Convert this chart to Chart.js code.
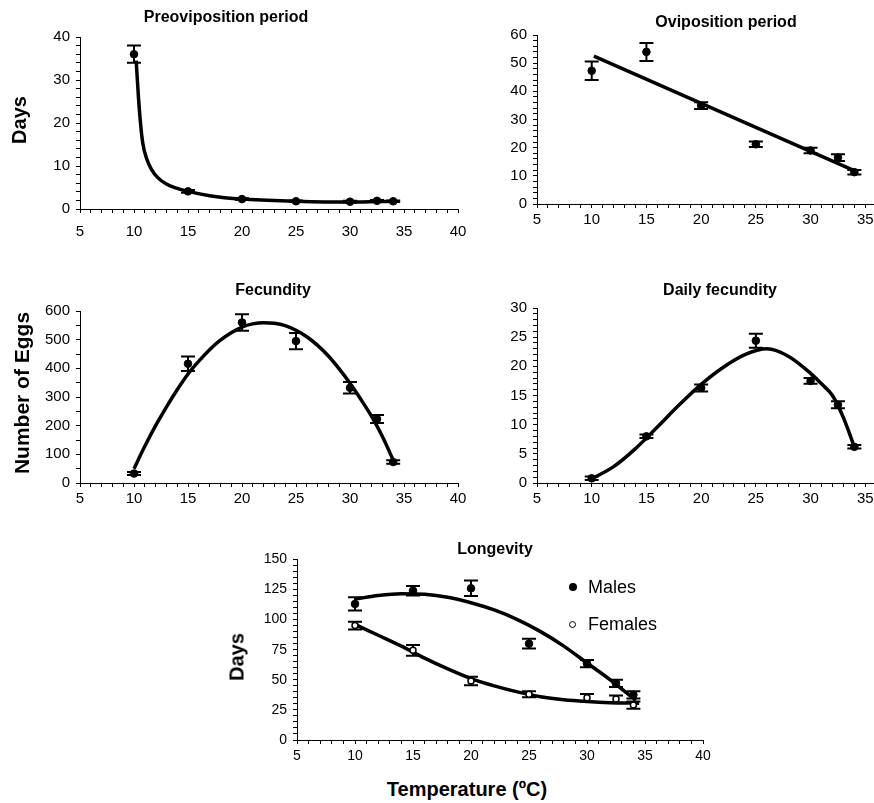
<!DOCTYPE html>
<html lang="en">
<head>
  <meta charset="UTF-8" />
  <title>Temperature effects on development</title>
  <script src="https://cdn.jsdelivr.net/npm/chart.js"></script>
  <style>
    html, body {
      margin: 0;
      padding: 0;
      background: #fff;
      overflow: hidden;
    }
    .page {
      position: relative;
      width: 874px;
      height: 803px;
      overflow: hidden;
      font-family: "Liberation Sans", Arial, sans-serif;
      color: #000;
    }
    .page canvas { position: absolute; }
    .title {
      position: absolute;
      font-weight: bold;
      font-size: 16px;
      transform: translate(-50%, -50%);
      white-space: nowrap;
    }
    .ytitle {
      position: absolute;
      font-weight: bold;
      font-size: 20px;
      transform: translate(-50%, -50%) rotate(-90deg);
      white-space: nowrap;
    }
    .xtitle {
      position: absolute;
      font-weight: bold;
      font-size: 20px;
      transform: translate(-50%, -50%);
      white-space: nowrap;
    }
    .legend {
      position: absolute;
      font-size: 18px;
      line-height: 20px;
    }
    .legend div { position: relative; padding-left: 19px; margin-bottom: 17px; }
    .dot {
      position: absolute;
      left: 0;
      top: 6px;
      width: 8px;
      height: 8px;
      border-radius: 50%;
      box-sizing: border-box;
      background: #000;
    }
    .dot.open { background: #fff; border: 1.5px solid #000; width: 7px; height: 7px; top: 7px; }
  </style>
</head>
<body>
  <div class="page">
    <canvas id="preov"></canvas>
    <canvas id="ovip"></canvas>
    <canvas id="fec"></canvas>
    <canvas id="daily"></canvas>
    <canvas id="longev"></canvas>

    <div class="title" style="left:226px; top:17px;">Preoviposition period</div>
    <div class="title" style="left:726px; top:22px;">Oviposition period</div>
    <div class="title" style="left:273px; top:290px;">Fecundity</div>
    <div class="title" style="left:720px; top:290px;">Daily fecundity</div>
    <div class="title" style="left:495px; top:549px;">Longevity</div>

    <div class="ytitle" style="left:19px; top:120px;">Days</div>
    <div class="ytitle" style="left:22px; top:393px; font-size:21px;">Number of Eggs</div>
    <div class="ytitle" style="left:237px; top:657px;">Days</div>
    <div class="xtitle" style="left:467px; top:789px;">Temperature (ºC)</div>

    <div class="legend" style="left:569px; top:577px;">
      <div><span class="dot"></span>Males</div>
      <div><span class="dot open"></span>Females</div>
    </div>
  </div>

  <script>
    // temperatures tested (ºC)
    const temps = [10, 15, 20, 25, 30, 32.5, 34];

    // preoviposition period (days)
    const preovMean = [36, 4.1, 2.3, 1.8, 1.7, 1.9, 1.8];
    const preovErr = [2, 0.3, 0.2, 0.2, 0.2, 0.2, 0.2];
    const preovFitX = [10.2, 10.5, 10.8, 11.2, 11.6, 12.2, 13, 14, 15, 17, 20, 25, 30, 34];
    const preovFitY = [34.5, 23, 15.5, 11.5, 9.3, 7.3, 5.8, 4.8, 4.1, 3.1, 2.3, 1.8, 1.6, 1.8];

    // oviposition period (days)
    const ovipMean = [47.3, 54, 34.9, 21.2, 19, 16.5, 11.3];
    const ovipErr = [3.3, 3.2, 1.2, 1, 1, 1.2, 0.8];
    const ovipFitX = [10.2, 34.3];
    const ovipFitY = [52.5, 11.3];

    // fecundity (eggs per female)
    const fecMean = [33, 416, 560, 495, 332, 223, 73];
    const fecErr = [5, 25, 29, 28, 20, 14, 6];
    const fecFitX = [10, 11, 12, 13, 14, 15, 16, 17, 18, 19, 20, 21, 22, 23, 24, 25, 26, 27, 28, 29, 30, 31, 32, 33, 34];
    const fecFitY = [50, 128, 200, 265, 325, 380, 425, 465, 498, 524, 544, 555, 559, 557, 549, 533, 510, 480, 443, 398, 348, 292, 232, 162, 80];

    // daily fecundity (eggs per female per day)
    const dailyMean = [0.8, 8, 16.3, 24.4, 17.5, 13.4, 6.2];
    const dailyErr = [0.3, 0.3, 0.6, 1.2, 0.5, 0.6, 0.3];
    const dailyFitX = [10, 12, 14, 16, 18, 20, 22, 24, 26, 28, 30, 31, 32, 33, 34];
    const dailyFitY = [0.7, 2.8, 5.9, 9.6, 13.4, 16.9, 19.8, 22, 23, 21.7, 18.8, 17, 15, 11.2, 6.2];

    // longevity (days)
    const maleMean = [113, 124, 126, 80, 63.5, 47, 37.5];
    const maleErr = [5.5, 4, 6.5, 4, 3, 3, 3];
    const femaleMean = [95, 74.5, 49, 38, 35, 34, 29];
    const femaleErr = [3.3, 4.5, 3.5, 2.5, 3.3, 3, 3];
    const maleFitX = [10, 12, 14, 16, 18, 20, 22, 24, 26, 28, 30, 32, 34.2];
    const maleFitY = [117, 120, 121.5, 121, 118.5, 114, 108, 100, 90, 78, 64, 50, 33];
    const femaleFitX = [10, 12, 14, 16, 18, 20, 22, 24, 26, 28, 30, 32, 34.5];
    const femaleFitY = [96, 87, 78, 68, 59, 51, 45, 40, 36, 33.5, 32, 31, 30.5];

    const FONT = '"Liberation Sans", Arial, sans-serif';

    function zip(xs, ys) {
      return xs.map((x, i) => ({ x: x, y: ys[i] }));
    }

    // error bars drawn under the markers
    const errorBars = {
      id: 'errorBars',
      beforeDatasetsDraw(chart) {
        const { ctx, scales: { x, y } } = chart;
        ctx.save();
        ctx.strokeStyle = '#000';
        ctx.lineWidth = 2;
        chart.data.datasets.forEach(ds => {
          if (!ds.err) return;
          ds.data.forEach((p, i) => {
            const px = x.getPixelForValue(p.x);
            const top = y.getPixelForValue(p.y + ds.err[i]);
            const bot = y.getPixelForValue(p.y - ds.err[i]);
            ctx.beginPath();
            ctx.moveTo(px, top); ctx.lineTo(px, bot);
            ctx.moveTo(px - 7, top); ctx.lineTo(px + 7, top);
            ctx.moveTo(px - 7, bot); ctx.lineTo(px + 7, bot);
            ctx.stroke();
          });
        });
        ctx.restore();
      }
    };

    function curve(xs, ys) {
      return {
        data: zip(xs, ys),
        showLine: true,
        pointRadius: 0,
        borderColor: '#000',
        borderWidth: 3.5,
        cubicInterpolationMode: 'monotone',
        order: 2
      };
    }

    function points(ys, err, open) {
      return {
        data: zip(temps, ys),
        err: err,
        showLine: false,
        pointRadius: open ? 3 : 3.8,
        pointBackgroundColor: open ? '#fff' : '#000',
        pointBorderColor: '#000',
        pointBorderWidth: open ? 1.5 : 1,
        order: 1
      };
    }

    // area = chart area in page pixels
    function panel(id, area, yMax, yStep, yMajor, tickSize, xPad, datasets) {
      const padL = 50, padT = 12, padR = 20, padB = 36;
      const cv = document.getElementById(id);
      cv.width = area.r - area.l + padL + padR;
      cv.height = area.b - area.t + padT + padB;
      cv.style.left = (area.l - padL) + 'px';
      cv.style.top = (area.t - padT) + 'px';
      return new Chart(cv, {
        type: 'scatter',
        data: { datasets: datasets },
        plugins: [errorBars],
        options: {
          responsive: false,
          animation: false,
          devicePixelRatio: 1,
          layout: { padding: { left: 0, top: padT, right: padR, bottom: 0 } },
          plugins: { legend: { display: false }, tooltip: { enabled: false } },
          scales: {
            x: {
              type: 'linear',
              min: 5, max: 40,
              afterFit: s => { s.height = padB; },
              border: { color: '#000', width: 1 },
              grid: { drawOnChartArea: false, tickLength: 4, color: '#000' },
              ticks: {
                stepSize: 1, autoSkip: false, maxRotation: 0, padding: xPad,
                color: '#000', font: { family: FONT, size: tickSize },
                callback: v => (v % 5 === 0 ? String(v) : '')
              }
            },
            y: {
              min: 0, max: yMax,
              afterFit: s => { s.width = padL; },
              border: { color: '#000', width: 1 },
              grid: { drawOnChartArea: false, tickLength: 4, color: '#000' },
              ticks: {
                stepSize: yStep, autoSkip: false, padding: 6,
                color: '#000', font: { family: FONT, size: tickSize },
                callback: v => (v % yMajor === 0 ? String(v) : '')
              }
            }
          }
        }
      });
    }

    panel('preov', { l: 80, t: 34, r: 458, b: 209 }, 40, 2, 10, 15, 10, [
      points(preovMean, preovErr),
      curve(preovFitX, preovFitY)
    ]);

    panel('ovip', { l: 537, t: 32, r: 920, b: 204 }, 60, 2, 10, 15, 3, [
      points(ovipMean, ovipErr),
      curve(ovipFitX, ovipFitY)
    ]);

    panel('fec', { l: 80, t: 308, r: 458, b: 483 }, 600, 50, 100, 15, 3, [
      points(fecMean, fecErr),
      curve(fecFitX, fecFitY)
    ]);

    panel('daily', { l: 537, t: 305, r: 920, b: 483 }, 30, 1, 5, 15, 3, [
      points(dailyMean, dailyErr),
      curve(dailyFitX, dailyFitY)
    ]);

    panel('longev', { l: 297, t: 557, r: 703, b: 740 }, 150, 5, 25, 14, 4, [
      points(maleMean, maleErr),
      points(femaleMean, femaleErr, true),
      curve(maleFitX, maleFitY),
      curve(femaleFitX, femaleFitY)
    ]);
  </script>
</body>
</html>
